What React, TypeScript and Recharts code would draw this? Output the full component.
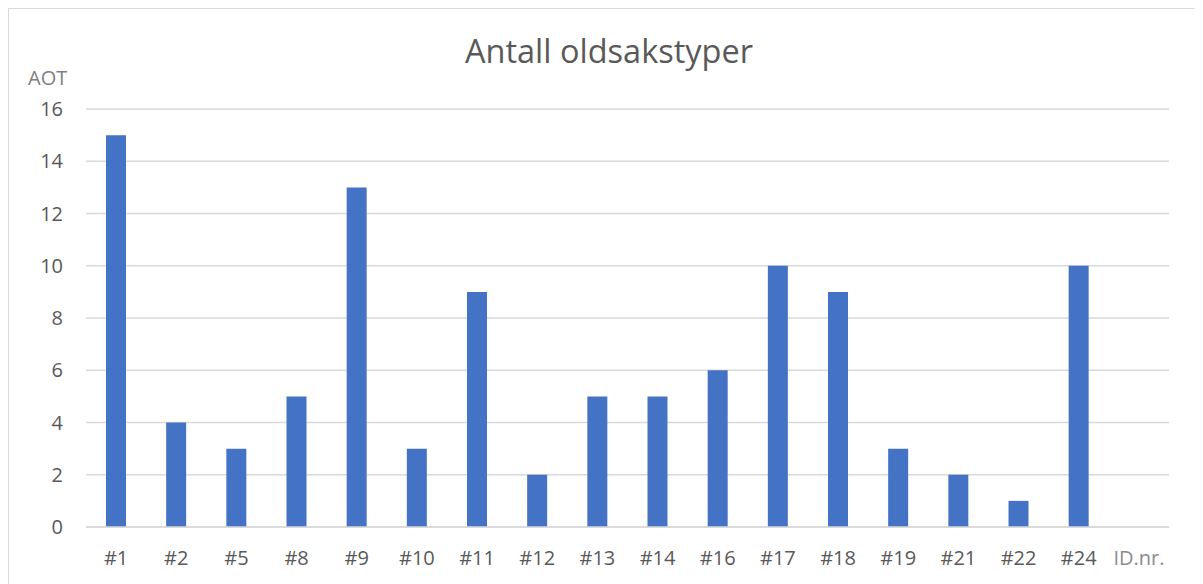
import React from "react";
import { BarChart, Bar, XAxis, YAxis, CartesianGrid } from "recharts";

const categories = ["#1", "#2", "#5", "#8", "#9", "#10", "#11", "#12", "#13", "#14", "#16", "#17", "#18", "#19", "#21", "#22", "#24", "ID.nr."];
const aotValues: (number | null)[] = [15, 4, 3, 5, 13, 3, 9, 2, 5, 5, 6, 10, 9, 3, 2, 1, 10, null];
const yTicks = [0, 2, 4, 6, 8, 10, 12, 14, 16];

const data = categories.map((c, i) => ({ id: c, aot: aotValues[i] }));

const FONT = "'Open Sans', 'Liberation Sans', sans-serif";

const XTick = (props: any) => {
  const { x, y, payload } = props;
  const isTitle = payload.value === "ID.nr.";
  return (
    <text x={x} y={y} dy={30} textAnchor="middle" fontFamily={FONT} fontSize={20}
      fill={isTitle ? "#8c8c8c" : "#595959"}>
      {payload.value}
    </text>
  );
};

export default function App() {
  return (
    <div style={{ position: "relative", width: 1195, height: 576, borderTop: "1.5px solid #d9d9d9", borderLeft: "1.5px solid #d9d9d9", boxSizing: "border-box", background: "#fff" }}>
      <div style={{ position: "absolute", left: 0, top: 0 }}>
        <BarChart width={1195} height={576} data={data} margin={{ top: 100, right: 35, bottom: 18, left: 0 }} barCategoryGap={0}>
          <CartesianGrid vertical={false} stroke="#d9d9d9" strokeWidth={1.5} />
          <XAxis dataKey="id" axisLine={{ stroke: "#d9d9d9", strokeWidth: 1.5 }} tickLine={false} height={40} tick={<XTick />} interval={0} />
          <YAxis domain={[0, 16]} ticks={yTicks} axisLine={false} tickLine={false} width={77} tickSize={0} tickMargin={23}
            tick={{ fontFamily: FONT, fontSize: 20, fill: "#595959" }} interval={0} />
          <Bar dataKey="aot" fill="#4472c4" barSize={20} isAnimationActive={false} />
        </BarChart>
      </div>
      <div style={{ position: "absolute", left: 0, width: 1200, top: 20, textAlign: "center", fontFamily: FONT, fontSize: 32.5, color: "#595959", lineHeight: "44px" }}>
        Antall oldsakstyper
      </div>
      <div style={{ position: "absolute", left: 19, top: 55, fontFamily: FONT, fontSize: 20, color: "#7f7f7f", lineHeight: "28px" }}>AOT</div>
    </div>
  );
}
